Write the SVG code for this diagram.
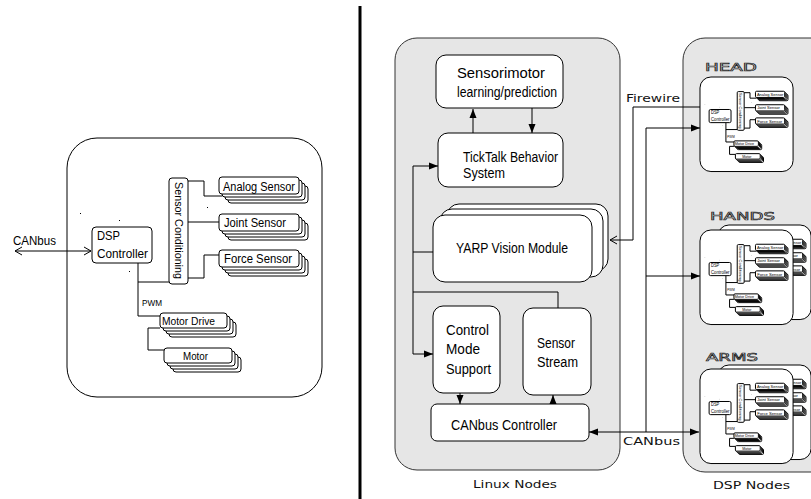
<svg xmlns="http://www.w3.org/2000/svg" xmlns:xlink="http://www.w3.org/1999/xlink" width="811" height="499" viewBox="0 0 811 499">
<style>
.ln{fill:none;stroke:#000;stroke-width:1;vector-effect:non-scaling-stroke}
.bx{fill:#fff;stroke:#000;stroke-width:1;vector-effect:non-scaling-stroke}
.panel{fill:#e6e6e6;stroke:#333;stroke-width:1}
.t{font-family:"Liberation Sans",Arial,sans-serif;fill:#000}
.g{font-family:"DejaVu Sans","Liberation Sans",sans-serif;fill:#111}
.lbl{font-family:"DejaVu Sans","Liberation Sans",sans-serif;fill:none;stroke:#222;stroke-width:0.6}
.dot{fill:#000}
</style>
<defs>
<marker id="ah" markerUnits="userSpaceOnUse" markerWidth="10" markerHeight="8" refX="9" refY="4" orient="auto">
<path d="M0,0.5 L9,4 L0,7.5 Z" fill="#000"/>
</marker>
<marker id="oh" markerUnits="userSpaceOnUse" markerWidth="10" markerHeight="10" refX="8" refY="5" orient="auto-start-reverse">
<path d="M1,1 L8,5 L1,9" fill="none" stroke="#000" stroke-width="1"/>
</marker>
</defs>

<!-- divider -->
<line x1="360" y1="6" x2="360" y2="499" stroke="#000" stroke-width="3"/>

<!-- LEFT: single DSP node -->
<g id="dsp-node">
  <rect class="bx" x="67" y="138" width="255" height="259" rx="30"/>
  <g id="dsp-lines">
    <path class="ln" d="M188,181 H204 V196 H222"/>
    <path class="ln" d="M188,222 H219"/>
    <path class="ln" d="M188,278 H204 V255 H219"/>
    <path class="ln" d="M138,263 V316 H160"/>
    <path class="ln" d="M138,282 H169"/>
    <path class="ln" d="M160,328 H148 V350 H164"/>
  </g>
  <g id="dsp-controller">
    <rect class="bx" x="92" y="227" width="60" height="36" rx="4"/>
    <text class="t" x="97" y="240" font-size="13" textLength="23" lengthAdjust="spacingAndGlyphs">DSP</text>
    <text class="t" x="97" y="258" font-size="13" textLength="51" lengthAdjust="spacingAndGlyphs">Controller</text>
  </g>
  <g id="sensor-conditioning">
    <rect class="bx" x="169" y="178" width="19" height="106" rx="3"/>
    <text class="t" transform="translate(175,182) rotate(90)" font-size="11" textLength="97" lengthAdjust="spacingAndGlyphs">Sensor Conditioning</text>
  </g>
  <g id="analog-sensor">
    <rect class="bx" x="228" y="186" width="80" height="17" rx="3"/>
    <rect class="bx" x="225" y="183" width="80" height="17" rx="3"/>
    <rect class="bx" x="222" y="180" width="80" height="17" rx="3"/>
    <rect class="bx" x="219" y="177" width="80" height="17" rx="3"/>
    <text class="t" x="223" y="191" font-size="12" textLength="72" lengthAdjust="spacingAndGlyphs">Analog Sensor</text>
  </g>
  <g id="joint-sensor">
    <rect class="bx" x="228" y="223" width="80" height="17" rx="3"/>
    <rect class="bx" x="225" y="220" width="80" height="17" rx="3"/>
    <rect class="bx" x="222" y="217" width="80" height="17" rx="3"/>
    <rect class="bx" x="219" y="214" width="80" height="17" rx="3"/>
    <text class="t" x="224" y="227" font-size="12" textLength="62" lengthAdjust="spacingAndGlyphs">Joint Sensor</text>
  </g>
  <g id="force-sensor">
    <rect class="bx" x="228" y="259" width="80" height="17" rx="3"/>
    <rect class="bx" x="225" y="256" width="80" height="17" rx="3"/>
    <rect class="bx" x="222" y="253" width="80" height="17" rx="3"/>
    <rect class="bx" x="219" y="250" width="80" height="17" rx="3"/>
    <text class="t" x="224" y="263" font-size="12" textLength="68" lengthAdjust="spacingAndGlyphs">Force Sensor</text>
  </g>
  <text class="t" x="142" y="306" font-size="9" textLength="20" lengthAdjust="spacingAndGlyphs">PWM</text>
  <g id="motor-drive">
    <rect class="bx" x="169" y="322" width="67" height="15" rx="3"/>
    <rect class="bx" x="166" y="319" width="67" height="15" rx="3"/>
    <rect class="bx" x="163" y="316" width="67" height="15" rx="3"/>
    <rect class="bx" x="160" y="313" width="67" height="15" rx="3"/>
    <text class="t" x="162" y="325" font-size="11" textLength="53" lengthAdjust="spacingAndGlyphs">Motor Drive</text>
  </g>
  <g id="motor">
    <rect class="bx" x="173" y="357" width="68" height="15" rx="3"/>
    <rect class="bx" x="170" y="354" width="68" height="15" rx="3"/>
    <rect class="bx" x="167" y="351" width="68" height="15" rx="3"/>
    <rect class="bx" x="164" y="348" width="68" height="15" rx="3"/>
    <text class="t" x="183" y="360" font-size="11" textLength="25" lengthAdjust="spacingAndGlyphs">Motor</text>
  </g>
  <rect class="dot" x="80" y="213" width="1" height="1"/>
  <rect class="dot" x="119" y="220" width="1" height="1"/>
  <rect class="dot" x="129" y="271" width="1" height="1"/>
  <rect class="dot" x="207" y="207" width="1" height="1"/>
</g>
<g id="left-connectors">
  <line class="ln" x1="15" y1="251" x2="91" y2="251" marker-start="url(#oh)" marker-end="url(#oh)"/>
  <text class="t" x="13" y="245" font-size="13" textLength="43" lengthAdjust="spacingAndGlyphs">CANbus</text>
</g>

<!-- RIGHT: panels -->
<g id="linux-nodes">
  <rect class="panel" x="395" y="38" width="225" height="432" rx="22"/>
  <text class="g" x="473" y="488" font-size="11" textLength="84" lengthAdjust="spacingAndGlyphs">Linux Nodes</text>
</g>
<g id="dsp-nodes">
  <rect class="panel" x="683" y="38" width="160" height="434" rx="22"/>
  <text class="g" x="713" y="489" font-size="11" textLength="77" lengthAdjust="spacingAndGlyphs">DSP Nodes</text>
</g>

<g id="sensorimotor">
  <rect class="bx" x="436" y="55" width="127" height="53" rx="10"/>
  <text class="t" x="457" y="78" font-size="14" textLength="88" lengthAdjust="spacingAndGlyphs">Sensorimotor</text>
  <text class="t" x="457" y="97" font-size="14" textLength="100" lengthAdjust="spacingAndGlyphs">learning/prediction</text>
</g>
<g id="ticktalk">
  <rect class="bx" x="438" y="133" width="125" height="54" rx="10"/>
  <text class="t" x="463" y="162" font-size="14" textLength="95" lengthAdjust="spacingAndGlyphs">TickTalk Behavior</text>
  <text class="t" x="463" y="178" font-size="14" textLength="42" lengthAdjust="spacingAndGlyphs">System</text>
</g>
<g id="yarp">
  <rect class="bx" x="447" y="204" width="161" height="67" rx="12"/>
  <rect class="bx" x="440" y="209" width="163" height="68" rx="12"/>
  <rect class="bx" x="433" y="215" width="159" height="67" rx="12"/>
  <text class="t" x="456" y="253" font-size="14" textLength="112" lengthAdjust="spacingAndGlyphs">YARP Vision Module</text>
</g>
<g id="control-mode">
  <rect class="bx" x="433" y="306" width="67" height="87" rx="10"/>
  <text class="t" x="446" y="335" font-size="14" textLength="43" lengthAdjust="spacingAndGlyphs">Control</text>
  <text class="t" x="446" y="354" font-size="14" textLength="34" lengthAdjust="spacingAndGlyphs">Mode</text>
  <text class="t" x="446" y="374" font-size="14" textLength="45" lengthAdjust="spacingAndGlyphs">Support</text>
</g>
<g id="sensor-stream">
  <rect class="bx" x="523" y="308" width="68" height="87" rx="10"/>
  <text class="t" x="537" y="348" font-size="14" textLength="38" lengthAdjust="spacingAndGlyphs">Sensor</text>
  <text class="t" x="537" y="367" font-size="14" textLength="41" lengthAdjust="spacingAndGlyphs">Stream</text>
</g>
<g id="canbus-controller">
  <rect class="bx" x="431" y="404" width="158" height="37" rx="6"/>
  <text class="t" x="451" y="430" font-size="14" textLength="106" lengthAdjust="spacingAndGlyphs">CANbus Controller</text>
</g>

<!-- DSP node copies -->
<g id="head">
  <text class="lbl" x="705" y="71" font-size="10" textLength="52" lengthAdjust="spacingAndGlyphs">HEAD</text>
  <use xlink:href="#dsp-node" href="#dsp-node" transform="translate(700,77) scale(0.365) translate(-67,-138)"/>
</g>
<g id="hands">
  <text class="lbl" x="710" y="220" font-size="10" textLength="65" lengthAdjust="spacingAndGlyphs">HANDS</text>
  <use xlink:href="#dsp-node" href="#dsp-node" transform="translate(718,225) scale(0.365) translate(-67,-138)"/>
  <use xlink:href="#dsp-node" href="#dsp-node" transform="translate(700,230) scale(0.365) translate(-67,-138)"/>
</g>
<g id="arms">
  <text class="lbl" x="706" y="361" font-size="10" textLength="52" lengthAdjust="spacingAndGlyphs">ARMS</text>
  <use xlink:href="#dsp-node" href="#dsp-node" transform="translate(718,365) scale(0.365) translate(-67,-138)"/>
  <use xlink:href="#dsp-node" href="#dsp-node" transform="translate(700,369) scale(0.365) translate(-67,-138)"/>
</g>

<!-- connectors -->
<g id="connectors">
  <line class="ln" x1="473" y1="133" x2="473" y2="109" marker-end="url(#ah)"/>
  <line class="ln" x1="532" y1="108" x2="532" y2="133" marker-end="url(#ah)"/>
  <path class="ln" d="M413,354 V166 H438" marker-end="url(#ah)"/>
  <path class="ln" d="M413,354 H433" marker-end="url(#ah)"/>
  <path class="ln" d="M413,252 H433"/>
  <path class="ln" d="M413,292 H558 V308"/>
  <line class="ln" x1="460" y1="393" x2="460" y2="404" marker-end="url(#ah)"/>
  <line class="ln" x1="553" y1="404" x2="553" y2="395" marker-end="url(#ah)"/>
  <path class="ln" d="M700,107 H633 V240 H610" marker-end="url(#oh)"/>
  <path class="ln" d="M646,432 V128 H700" marker-end="url(#ah)"/>
  <path class="ln" d="M646,276 H700" marker-end="url(#ah)"/>
  <path class="ln" d="M620,432 H589" marker-end="url(#ah)"/>
  <path class="ln" d="M620,432 H699" marker-end="url(#ah)"/>
  <text class="g" x="626" y="102" font-size="11" textLength="54" lengthAdjust="spacingAndGlyphs">Firewire</text>
  <text class="g" x="623" y="445" font-size="11" textLength="57" lengthAdjust="spacingAndGlyphs">CANbus</text>
</g>
</svg>
